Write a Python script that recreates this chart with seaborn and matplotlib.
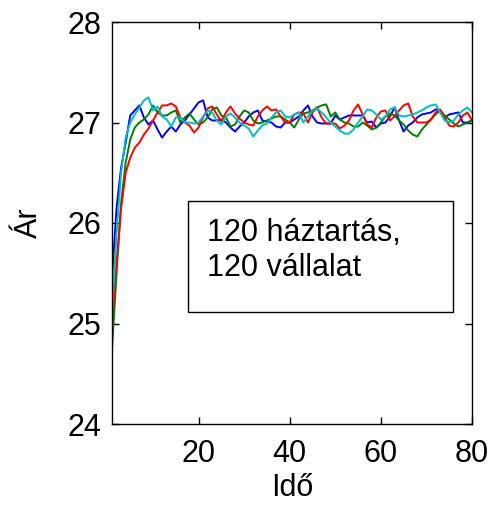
import numpy as np
import pandas as pd
import matplotlib
matplotlib.use("Agg")
import matplotlib.pyplot as plt
from matplotlib.patches import Rectangle
import seaborn as sns

time = list(range(1, 81))

blue = [25.45, 26.15, 26.55, 26.8, 27.07, 27.12, 27.17, 27.05, 26.98, 27.02,
        26.93, 26.85, 26.91, 26.96, 26.91, 26.98, 27.02, 27.08, 27.14, 27.20,
        27.22, 27.05, 27.02, 27.02, 27.03, 27.0, 26.95, 26.91, 26.96, 27.0,
        27.06, 27.1, 27.12, 27.02, 27.01, 27.0, 26.96, 26.95, 27.0, 27.0,
        27.03, 27.06, 27.12, 27.17, 27.06, 27.0, 26.99, 26.99, 26.99, 27.07,
        27.03, 27.05, 27.07, 27.07, 27.07, 27.07, 27.0, 27.01, 26.95, 26.99,
        27.0, 27.06, 27.15, 27.02, 26.91, 26.97, 27.0, 27.05, 27.08, 27.09,
        27.1, 27.13, 27.12, 27.05, 27.08, 27.09, 27.1, 27.0, 27.0, 27.02]

cyan = [25.1, 25.9, 26.5, 26.85, 27.0, 27.08, 27.15, 27.22, 27.25, 27.12,
        27.16, 27.06, 27.03, 26.96, 27.05, 27.05, 27.0, 27.0, 26.99, 27.0,
        27.06, 27.12, 27.1, 27.02, 26.98, 27.06, 27.09, 27.05, 27.0, 26.97,
        26.94, 26.86, 26.92, 26.97, 26.99, 27.05, 27.1, 27.12, 27.06, 27.05,
        27.08, 27.1, 27.0, 27.06, 27.12, 27.14, 27.1, 27.05, 27.0, 26.96,
        26.92, 26.89, 26.89, 26.93, 27.0, 27.06, 27.13, 27.12, 27.08, 27.03,
        27.06, 27.13, 27.15, 27.07, 27.06, 27.07, 27.08, 27.1, 27.12, 27.15,
        27.17, 27.18, 27.1, 27.02, 27.0, 27.02, 27.08, 27.12, 27.15, 27.1]

green = [24.75, 25.5, 26.2, 26.6, 26.83, 26.95, 27.0, 27.03, 27.08, 27.17,
         27.1, 27.07, 27.07, 27.1, 27.12, 27.0, 27.05, 27.09, 27.03, 26.98,
         27.0, 27.05, 27.13, 27.15, 27.07, 27.05, 26.96, 26.98, 27.06, 27.12,
         27.1, 27.02, 26.99, 27.0, 27.02, 27.04, 27.06, 27.06, 27.03, 27.0,
         26.95, 27.03, 27.09, 27.1, 27.12, 27.15, 27.17, 27.18, 27.06, 27.1,
         27.03, 27.0, 26.99, 26.96, 26.96, 27.0, 26.97, 26.93, 26.95, 27.0,
         27.06, 27.09, 27.07, 27.02, 26.98, 26.92, 26.88, 26.86, 26.93, 26.98,
         27.03, 27.08, 27.12, 27.07, 27.03, 26.99, 26.96, 26.98, 27.0, 27.02]

red = [25.0, 25.6, 26.15, 26.5, 26.65, 26.75, 26.8, 26.88, 26.94, 27.02,
       27.1, 27.17, 27.17, 27.19, 27.16, 27.05, 27.0, 26.97, 26.9, 26.95,
       27.05, 27.14, 27.16, 27.08, 27.01, 27.1, 27.16, 27.09, 27.04, 27.0,
       26.98, 26.97, 27.06, 27.12, 27.16, 27.12, 27.13, 27.06, 27.0, 27.0,
       27.08, 27.1, 27.09, 27.0, 27.1, 27.15, 27.05, 26.99, 26.99, 26.99,
       26.94, 26.97, 27.02, 27.12, 27.18, 27.08, 26.98, 26.95, 27.05, 27.11,
       27.12, 27.02, 27.06, 27.12, 27.17, 27.19, 27.06, 27.0, 27.0, 27.0,
       27.03, 27.1, 27.13, 27.05, 26.97, 26.96, 27.0, 27.07, 27.1, 27.02]

series_names = ["blue", "green", "red", "cyan"]
series_values = [blue, green, red, cyan]
colors = {"blue": "#0000ff", "green": "#008000", "red": "#ff0000", "cyan": "#00bfbf"}

xticks = [20, 40, 60, 80]
yticks = [24, 25, 26, 27, 28]
box_text = "120 háztartás,\n120 vállalat"

df = pd.concat([pd.DataFrame({"t": time, "v": vals, "s": name})
                for name, vals in zip(series_names, series_values)], ignore_index=True)

sns.set_theme(style="white")
plt.rcParams["font.family"] = ["Liberation Sans", "DejaVu Sans"]

FS = 22

fig = plt.figure(figsize=(4.94, 5.07), dpi=100)
ax = fig.add_axes([112/494, (507-424)/507, 360/494, 402/507])

sns.lineplot(data=df, x="t", y="v", hue="s", palette=colors, hue_order=series_names,
             linewidth=1.4, legend=False, ax=ax, estimator=None)

ax.set_xlim(1, 80)
ax.set_ylim(24, 28)
ax.set_xticks(xticks)
ax.set_yticks(yticks)
ax.tick_params(direction="in", length=5, width=1, labelsize=FS, color="black",
               top=True, right=True, bottom=True, left=True, labelcolor="black")
ax.tick_params(axis="x", pad=11)
ax.tick_params(axis="y", pad=8)
for sp in ax.spines.values():
    sp.set_visible(True)
    sp.set_color("black")
    sp.set_linewidth(1.0)

ax.set_xlabel("Idő", fontsize=FS, color="black", labelpad=3)
ax.set_ylabel("Ár", fontsize=FS, color="black")
ax.yaxis.set_label_coords(-0.19, 0.5)

rect = Rectangle((17.7, 25.11), 58.2, 1.11, facecolor="white", edgecolor="black",
                 linewidth=1.0, zorder=5)
ax.add_patch(rect)
ax.text(21.9, 26.05, box_text, fontsize=FS, color="black", ha="left", va="top",
        linespacing=1.2, zorder=6)

fig.savefig("out.png", dpi=100, facecolor="white")
